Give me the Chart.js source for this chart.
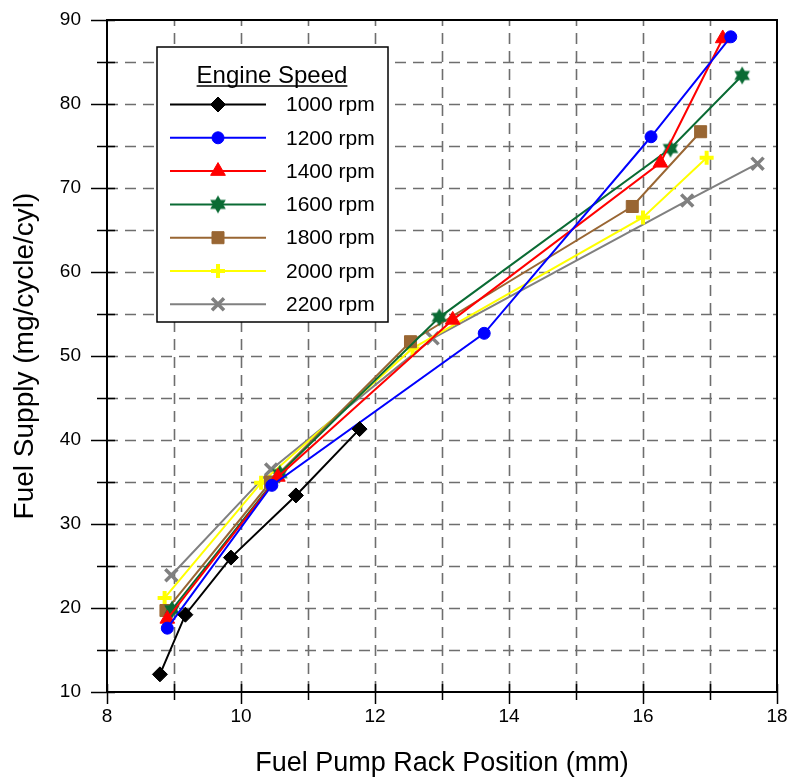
<!DOCTYPE html>
<html>
<head>
<meta charset="utf-8">
<script src="https://cdn.jsdelivr.net/npm/chart.js@4.4.1/dist/chart.umd.min.js"></script>
<style>
  html, body { margin: 0; padding: 0; background: #fff; }
  #wrap { width: 791px; height: 780px; position: relative; }
</style>
</head>
<body>
<div id="wrap"><canvas id="c" width="791" height="780"></canvas></div>
<script>
// ---- Data ----
const seriesLabels = ['1000 rpm', '1200 rpm', '1400 rpm', '1600 rpm', '1800 rpm', '2000 rpm', '2200 rpm'];
const rack1000 = [8.79, 9.17, 9.85, 10.82, 11.77];
const fuel1000 = [12.1, 19.2, 26.0, 33.4, 41.3];
const rack1200 = [8.90, 10.46, 13.63, 16.12, 17.31];
const fuel1200 = [17.6, 34.6, 52.7, 76.1, 88.0];
const rack1400 = [8.90, 10.55, 13.16, 16.26, 17.19];
const fuel1400 = [18.7, 35.6, 54.3, 73.0, 87.8];
const rack1600 = [8.97, 10.58, 12.96, 16.41, 17.48];
const fuel1600 = [19.8, 36.0, 54.6, 74.7, 83.4];
const rack1800 = [8.88, 10.44, 12.53, 15.84, 16.86];
const fuel1800 = [19.7, 35.0, 51.7, 67.8, 76.7];
const rack2000 = [8.86, 10.30, 12.56, 16.00, 16.95];
const fuel2000 = [21.2, 34.9, 50.9, 66.5, 73.6];
const rack2200 = [8.96, 10.45, 12.86, 16.66, 17.71];
const fuel2200 = [23.9, 36.5, 52.1, 68.5, 72.9];
const xTickLabels = [8, 10, 12, 14, 16, 18];
const yTickLabels = [10, 20, 30, 40, 50, 60, 70, 80, 90];

// ---- Styles ----
const FONT = '"Liberation Sans", Arial, Helvetica, sans-serif';
const GREEN = '#0a6b34';

function makeHexagram(color, r) {
  const s = Math.ceil(r * 2 + 2);
  const c = document.createElement('canvas');
  c.width = s; c.height = s;
  const g = c.getContext('2d');
  const cx = s / 2, cy = s / 2;
  g.fillStyle = color;
  [[-90, 30, 150], [90, 210, 330]].forEach(angs => {
    g.beginPath();
    angs.forEach((a, i) => {
      const t = a * Math.PI / 180;
      const px = cx + r * Math.cos(t), py = cy + r * Math.sin(t);
      if (i === 0) g.moveTo(px, py); else g.lineTo(px, py);
    });
    g.closePath();
    g.fill();
  });
  return c;
}
const hexStar = makeHexagram(GREEN, 9);

function pts(xs, ys) { return xs.map((x, i) => ({ x: x, y: ys[i] })); }

const seriesStyles = [
  { color: '#000000', pointStyle: 'rectRot', radius: 7.5, bw: 1 },
  { color: '#0000ff', pointStyle: 'circle', radius: 6, bw: 1 },
  { color: '#ff0000', pointStyle: 'triangle', radius: 8.5, bw: 1 },
  { color: GREEN, pointStyle: hexStar, radius: 9, bw: 1 },
  { color: '#996633', pointStyle: 'rect', radius: 8.5, bw: 1 },
  { color: '#ffff00', pointStyle: 'cross', radius: 7, bw: 4 },
  { color: '#808080', pointStyle: 'crossRot', radius: 8.5, bw: 3.5 }
];
const seriesData = [
  pts(rack1000, fuel1000), pts(rack1200, fuel1200), pts(rack1400, fuel1400),
  pts(rack1600, fuel1600), pts(rack1800, fuel1800), pts(rack2000, fuel2000),
  pts(rack2200, fuel2200)
];

const datasets = seriesLabels.map((lab, i) => {
  const s = seriesStyles[i];
  return {
    label: lab,
    data: seriesData[i],
    showLine: true,
    borderColor: s.color,
    backgroundColor: s.color,
    borderWidth: 2,
    pointStyle: s.pointStyle,
    pointRadius: s.radius,
    pointHoverRadius: s.radius,
    pointBackgroundColor: s.color,
    pointBorderColor: s.color,
    pointBorderWidth: s.bw,
    tension: 0
  };
});

// ---- Plugin: dashed grid, frame, tick marks ----
const frameGrid = {
  id: 'frameGrid',
  beforeDatasetsDraw(chart) {
    const ctx = chart.ctx;
    const xs = chart.scales.x, ys = chart.scales.y;
    const a = chart.chartArea;
    ctx.save();
    ctx.strokeStyle = '#6e6e6e';
    ctx.lineWidth = 1.6;
    ctx.setLineDash([11, 7]);
    for (let v = 9; v <= 17; v++) {
      const px = Math.round(xs.getPixelForValue(v)) + 0.5;
      ctx.beginPath(); ctx.moveTo(px, a.bottom); ctx.lineTo(px, a.top); ctx.stroke();
    }
    for (let v = 15; v <= 85; v += 5) {
      const py = Math.round(ys.getPixelForValue(v)) + 0.5;
      ctx.beginPath(); ctx.moveTo(a.left, py); ctx.lineTo(a.right, py); ctx.stroke();
    }
    ctx.setLineDash([]);
    // ticks
    ctx.strokeStyle = '#000';
    ctx.lineWidth = 1.5;
    for (let v = 8; v <= 18; v++) {
      const px = Math.round(xs.getPixelForValue(v)) + 0.5;
      const out = (v % 2 === 0) ? 12 : 8;
      ctx.beginPath(); ctx.moveTo(px, a.bottom - 8); ctx.lineTo(px, a.bottom + out); ctx.stroke();
    }
    for (let v = 10; v <= 90; v += 5) {
      const py = Math.round(ys.getPixelForValue(v)) + 0.5;
      const out = (v % 10 === 0) ? 16 : 10;
      ctx.beginPath(); ctx.moveTo(a.left - out, py); ctx.lineTo(a.left + 8, py); ctx.stroke();
    }
    // frame
    ctx.lineWidth = 2;
    ctx.strokeRect(a.left, a.top, a.right - a.left, a.bottom - a.top);
    ctx.restore();
  }
};

// ---- Plugin: in-plot legend ----
function drawMarker(ctx, s, x, y) {
  ctx.save();
  ctx.fillStyle = s.color;
  ctx.strokeStyle = s.color;
  ctx.lineWidth = s.bw;
  if (Chart.helpers && Chart.helpers.drawPoint) {
    Chart.helpers.drawPoint(ctx, { pointStyle: s.pointStyle, radius: s.radius, borderWidth: s.bw, rotation: 0 }, x, y);
  }
  ctx.restore();
}
const innerLegend = {
  id: 'innerLegend',
  afterDatasetsDraw(chart) {
    const ctx = chart.ctx;
    const bx = 157, by = 47, bw = 231, bh = 275;
    ctx.save();
    ctx.fillStyle = '#fff';
    ctx.fillRect(bx, by, bw, bh);
    ctx.strokeStyle = '#000';
    ctx.lineWidth = 1.5;
    ctx.strokeRect(bx, by, bw, bh);
    // title
    ctx.fillStyle = '#000';
    ctx.font = '24px ' + FONT;
    ctx.textAlign = 'center';
    ctx.textBaseline = 'alphabetic';
    const title = 'Engine Speed';
    const tx = 272, ty = 83;
    ctx.fillText(title, tx, ty);
    const tw = ctx.measureText(title).width;
    ctx.lineWidth = 1.5;
    ctx.beginPath(); ctx.moveTo(tx - tw / 2, ty + 3); ctx.lineTo(tx + tw / 2, ty + 3); ctx.stroke();
    // items
    ctx.font = '21px ' + FONT;
    ctx.textAlign = 'left';
    ctx.textBaseline = 'middle';
    seriesLabels.forEach((lab, i) => {
      const s = seriesStyles[i];
      const ry = 104.5 + i * 33.3;
      ctx.strokeStyle = s.color;
      ctx.lineWidth = 2;
      ctx.beginPath(); ctx.moveTo(170, ry); ctx.lineTo(266, ry); ctx.stroke();
      drawMarker(ctx, s, 218, ry);
      ctx.fillStyle = '#000';
      ctx.fillText(lab, 286, ry + 1);
    });
    ctx.restore();
  }
};

new Chart(document.getElementById('c'), {
  type: 'scatter',
  data: { datasets: datasets },
  options: {
    responsive: false,
    animation: false,
    devicePixelRatio: 1,
    layout: { padding: { top: 20, right: 14, left: 0, bottom: 0 } },
    plugins: {
      legend: { display: false },
      tooltip: { enabled: false },
      title: { display: false }
    },
    scales: {
      x: {
        type: 'linear',
        min: 8, max: 18,
        afterFit(scale) { scale.height = 88; scale.paddingLeft = 0; scale.paddingRight = 0; },
        grid: { display: false, drawTicks: false },
        border: { display: false },
        ticks: {
          stepSize: 1,
          autoSkip: false,
          maxRotation: 0,
          padding: 13,
          color: '#000',
          font: { family: FONT, size: 19 },
          callback: v => xTickLabels.includes(v) ? String(v) : ''
        },
        title: {
          display: true,
          text: 'Fuel Pump Rack Position (mm)',
          color: '#000',
          font: { family: FONT, size: 27, lineHeight: 1.2 },
          padding: { top: 0, bottom: 0 }
        }
      },
      y: {
        type: 'linear',
        min: 10, max: 90,
        afterFit(scale) { scale.width = 107; scale.paddingTop = 0; scale.paddingBottom = 0; },
        grid: { display: false, drawTicks: false },
        border: { display: false },
        ticks: {
          stepSize: 5,
          autoSkip: false,
          padding: 26,
          color: '#000',
          font: { family: FONT, size: 19 },
          callback: v => yTickLabels.includes(v) ? String(v) : ''
        },
        title: {
          display: true,
          text: 'Fuel Supply (mg/cycle/cyl)',
          color: '#000',
          font: { family: FONT, size: 28, lineHeight: 1.2 },
          padding: { top: 8, bottom: 0 }
        }
      }
    }
  },
  plugins: [frameGrid, innerLegend]
});
</script>
</body>
</html>
